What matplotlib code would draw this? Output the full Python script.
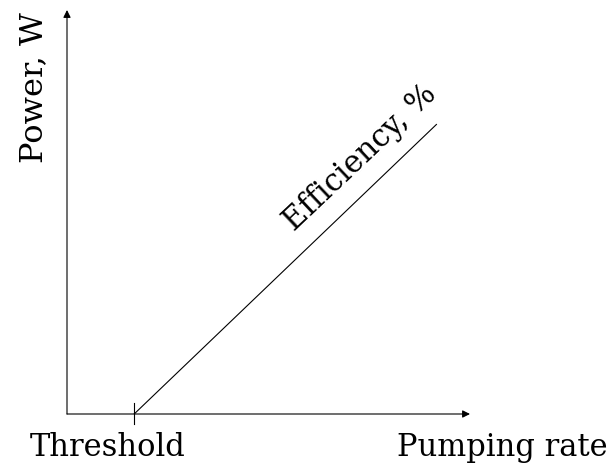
import matplotlib
matplotlib.use("Agg")
import matplotlib.pyplot as plt

# Schematic laser output: power vs pumping rate above threshold
threshold = 1.0
pump = [1.0, 5.5]
power = [0.0, 4.3]
x_max = 6.0
y_max = 6.0

plt.rcParams["font.family"] = ["DejaVu Serif"]

fig = plt.figure(figsize=(6.11, 4.68), dpi=100)
ax = fig.add_axes([67 / 611, 54 / 468, 403 / 611, 404 / 468])
ax.set_xlim(0, x_max)
ax.set_ylim(0, y_max)
ax.axis("off")

arrow = dict(arrowstyle="-|>", lw=0.8, color="black", mutation_scale=11,
             shrinkA=0, shrinkB=0)
# axes with arrow heads
ax.annotate("", xy=(x_max, 0), xytext=(0, 0), arrowprops=arrow)
ax.annotate("", xy=(0, y_max), xytext=(0, 0), arrowprops=arrow)

# threshold tick
ax.plot([threshold, threshold], [-0.15, 0.16], color="black", lw=0.8,
        clip_on=False)

# efficiency line
ax.plot(pump, power, color="black", lw=0.8)

ax.text(0.6, -0.63, "Threshold", ha="center", va="baseline", fontsize=22,
        clip_on=False)
ax.text(6.48, -0.63, "Pumping rate", ha="center", va="baseline", fontsize=22,
        clip_on=False)
ax.text(-0.5, 4.85, "Power, W", ha="center", va="center", rotation=90,
        fontsize=23, clip_on=False)
ax.text(4.37, 3.8, "Efficiency, %", ha="center", va="center",
        rotation=43.4, fontsize=22, clip_on=False)

fig.savefig("out.png", dpi=100)
